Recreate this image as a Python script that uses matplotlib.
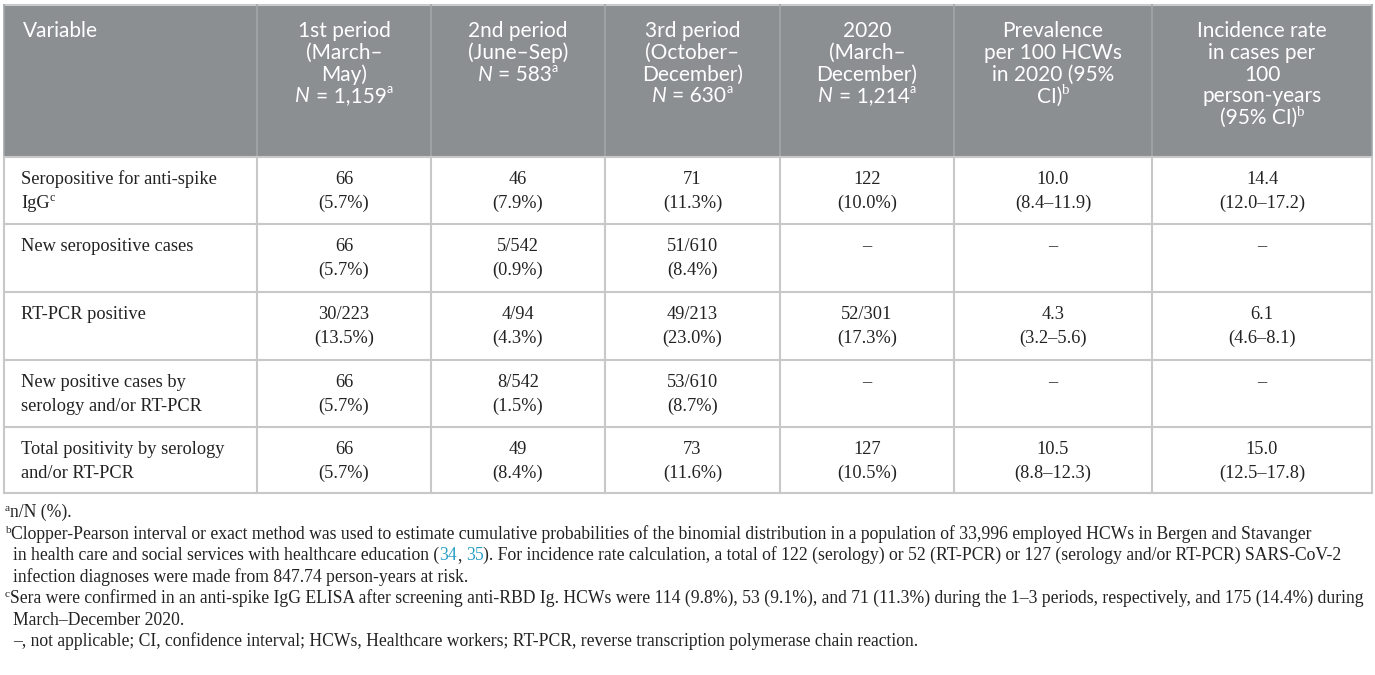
import matplotlib
matplotlib.use("Agg")
import matplotlib.pyplot as plt

# ---------------- data ----------------
header_variable = "Variable"
header_cols = [
    (["1st period", "(March–", "May)"], "1,159", "a"),
    (["2nd period", "(June–Sep)"], "583", "a"),
    (["3rd period", "(October–", "December)"], "630", "a"),
    (["2020", "(March–", "December)"], "1,214", "a"),
    (["Prevalence", "per 100 HCWs", "in 2020 (95%", "CI)"], None, "b"),
    (["Incidence rate", "in cases per", "100", "person-years", "(95% CI)"], None, "b"),
]

row_labels = [
    ["Seropositive for anti-spike", "IgG"],
    ["New seropositive cases"],
    ["RT-PCR positive"],
    ["New positive cases by", "serology and/or RT-PCR"],
    ["Total positivity by serology", "and/or RT-PCR"],
]
row_label_sup = ["c", None, None, None, None]

period1_n = ["66", "66", "30/223", "66", "66"]
period1_pct = ["5.7", "5.7", "13.5", "5.7", "5.7"]
period2_n = ["46", "5/542", "4/94", "8/542", "49"]
period2_pct = ["7.9", "0.9", "4.3", "1.5", "8.4"]
period3_n = ["71", "51/610", "49/213", "53/610", "73"]
period3_pct = ["11.3", "8.4", "23.0", "8.7", "11.6"]
year_n = ["122", None, "52/301", None, "127"]
year_pct = ["10.0", None, "17.3", None, "10.5"]
prev_est = ["10.0", None, "4.3", None, "10.5"]
prev_ci = ["8.4–11.9", None, "3.2–5.6", None, "8.8–12.3"]
inc_est = ["14.4", None, "6.1", None, "15.0"]
inc_ci = ["12.0–17.2", None, "4.6–8.1", None, "12.5–17.8"]

footnote_a = "n/N (%)."
footnote_b = [
    "Clopper-Pearson interval or exact method was used to estimate cumulative probabilities of the binomial distribution in a population of 33,996 employed HCWs in Bergen and Stavanger",
    ["in health care and social services with healthcare education (", "34", ", ", "35",
     "). For incidence rate calculation, a total of 122 (serology) or 52 (RT-PCR) or 127 (serology and/or RT-PCR) SARS-CoV-2"],
    "infection diagnoses were made from 847.74 person-years at risk.",
]
footnote_c = [
    "Sera were confirmed in an anti-spike IgG ELISA after screening anti-RBD Ig. HCWs were 114 (9.8%), 53 (9.1%), and 71 (11.3%) during the 1–3 periods, respectively, and 175 (14.4%) during",
    "March–December 2020.",
]
footnote_abbrev = "–, not applicable; CI, confidence interval; HCWs, Healthcare workers; RT-PCR, reverse transcription polymerase chain reaction."

# ---------------- layout ----------------
W, H = 1375, 675
col_x = [4, 257, 431, 605, 780, 954, 1152, 1372]
row_y = [5, 157, 224, 292, 360, 427, 493]

HEAD_BG = "#8b8f92"
HEAD_LINE = "#a3a7aa"
GRID = "#c8c8c8"
LINK = "#2a9fc4"

SANS = "Lato"
SERIF = "Liberation Serif"
head_fs = 15.0
body_fs = 13.2
foot_fs = 12.7

fig = plt.figure(figsize=(W / 100, H / 100), dpi=100)
ax = fig.add_axes([0, 0, 1, 1])
ax.set_xlim(0, W)
ax.set_ylim(H, 0)
ax.axis("off")
renderer = fig.canvas.get_renderer()


def text_w(s, **kw):
    t = ax.text(0, 0, s, **kw)
    w = t.get_window_extent(renderer).width
    t.remove()
    return w


def space_w(**kw):
    return text_w("x x", **kw) - text_w("xx", **kw)


def draw_runs(x, y, runs, ha="left"):
    """runs: list of (string, kwargs, dy, lead_spaces)"""
    widths = []
    for s, kw, dy, sp in runs:
        widths.append(text_w(s, **kw) + sp * space_w(**kw))
    total = sum(widths)
    x0 = x - total / 2 if ha == "center" else (x - total if ha == "right" else x)
    for (s, kw, dy, sp), w in zip(runs, widths):
        ax.text(x0 + sp * space_w(**kw), y + dy, s, ha="left", va="baseline", **kw)
        x0 += w


# header background
ax.add_patch(plt.Rectangle((col_x[0], row_y[0]), col_x[-1] - col_x[0], row_y[1] - row_y[0],
                           facecolor=HEAD_BG, edgecolor="none", zorder=0))
ax.plot([col_x[0], col_x[-1]], [row_y[0], row_y[0]], color="#c8cacc", lw=1.5, zorder=1)
for xc in col_x[1:-1]:
    ax.plot([xc, xc], [row_y[0], row_y[1]], color=HEAD_LINE, lw=1.2, zorder=1)
ax.plot([col_x[0], col_x[0]], [row_y[0], row_y[1]], color=HEAD_LINE, lw=1.2, zorder=1)
ax.plot([col_x[-1], col_x[-1]], [row_y[0], row_y[1]], color=HEAD_LINE, lw=1.2, zorder=1)

# body grid
for yr in row_y[1:]:
    ax.plot([col_x[0], col_x[-1]], [yr, yr], color=GRID, lw=1.5, zorder=1)
for xc in col_x:
    ax.plot([xc, xc], [row_y[1], row_y[-1]], color=GRID, lw=1.5, zorder=1)

# header text
hk = dict(family=SANS, fontsize=head_fs, color="white")
hk_it = dict(family=SANS, fontsize=head_fs, color="white", style="italic")
hk_sup = dict(family=SANS, fontsize=head_fs * 0.6, color="white")
hk_supb = dict(family=SERIF, fontsize=head_fs * 0.72, color="white")
head_base = 37
head_pitch = 21.8
ax.text(23, head_base, header_variable, ha="left", va="baseline", **hk)
for ci, (lines, nval, sup) in enumerate(header_cols):
    cx = (col_x[ci + 1] + col_x[ci + 2]) / 2
    for li, line in enumerate(lines):
        y = head_base + li * head_pitch
        last = (li == len(lines) - 1) and nval is None
        if last:
            draw_runs(cx, y, [(line, hk, 0, 0), (sup, hk_supb, -8, 0)], ha="center")
        else:
            draw_runs(cx, y, [(line, hk, 0, 0)], ha="center")
    if nval is not None:
        y = head_base + len(lines) * head_pitch
        draw_runs(cx, y, [("N", hk_it, 0, 0), ("= " + nval, hk, 0, 1),
                          (sup, hk_sup, -9, 0)], ha="center")

# body text
bk = dict(family=SERIF, fontsize=body_fs, color="#222222")
bk_sup = dict(family=SERIF, fontsize=body_fs * 0.65, color="#222222")
line1_off = 27
line2_off = 51
cols = [
    (period1_n, period1_pct, "pct"),
    (period2_n, period2_pct, "pct"),
    (period3_n, period3_pct, "pct"),
    (year_n, year_pct, "pct"),
    (prev_est, prev_ci, "ci"),
    (inc_est, inc_ci, "ci"),
]
for ri in range(len(row_labels)):
    top = row_y[ri + 1]
    for li, lab in enumerate(row_labels[ri]):
        y = top + (line1_off if li == 0 else line2_off)
        runs = [(lab, bk, 0, 0)]
        if li == len(row_labels[ri]) - 1 and row_label_sup[ri]:
            runs.append((row_label_sup[ri], bk_sup, -7, 0))
        draw_runs(21, y, runs, ha="left")
    for ci, (first, second, kind) in enumerate(cols):
        cx = (col_x[ci + 1] + col_x[ci + 2]) / 2
        if first[ri] is None:
            ax.text(cx, top + line1_off, "–", ha="center", va="baseline", **bk)
            continue
        ax.text(cx, top + line1_off, first[ri], ha="center", va="baseline", **bk)
        s2 = "(" + second[ri] + ("%)" if kind == "pct" else ")")
        ax.text(cx, top + line2_off, s2, ha="center", va="baseline", **bk)

# footnotes
fk = dict(family=SERIF, fontsize=foot_fs, color="#222222")
fk_link = dict(family=SERIF, fontsize=foot_fs, color=LINK)
fk_sup = dict(family=SERIF, fontsize=foot_fs * 0.65, color="#222222")
fx = 5
fx_text = 13
fbase = [517, 539, 560, 582, 603, 625, 646]

draw_runs(fx, fbase[0], [("a", fk_sup, -6, 0), (footnote_a, fk, 0, 0)])
draw_runs(fx, fbase[1], [("b", fk_sup, -6, 0), (footnote_b[0], fk, 0, 0)])
l2 = footnote_b[1]
draw_runs(fx_text, fbase[2], [(l2[0], fk, 0, 0), (l2[1], fk_link, 0, 0), (l2[2].strip(), fk, 0, 0),
                              (l2[3], fk_link, 0, 1), (l2[4], fk, 0, 0)])
ax.text(fx_text, fbase[3], footnote_b[2], ha="left", va="baseline", **fk)
draw_runs(fx, fbase[4], [("c", fk_sup, -6, 0), (footnote_c[0], fk, 0, 0)])
ax.text(fx_text, fbase[5], footnote_c[1], ha="left", va="baseline", **fk)
ax.text(fx_text, fbase[6], footnote_abbrev, ha="left", va="baseline", **fk)

fig.savefig("out.png", dpi=100, facecolor="white")
